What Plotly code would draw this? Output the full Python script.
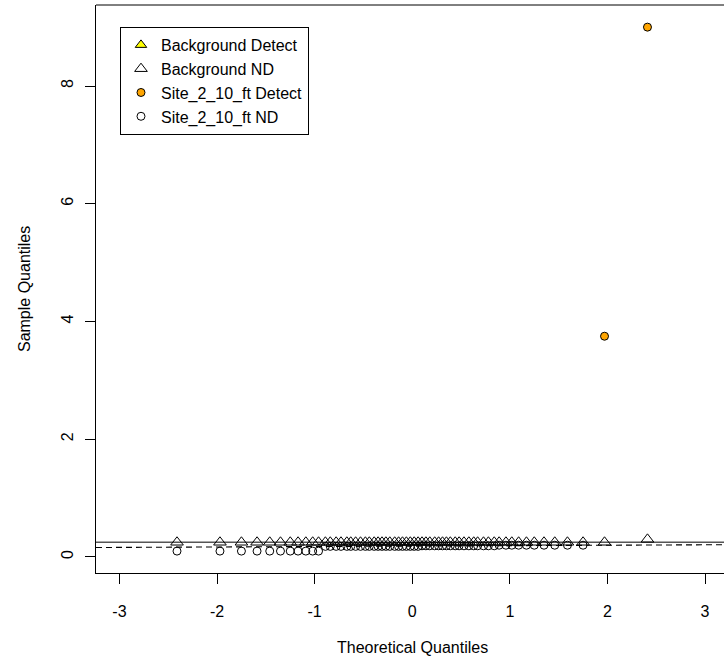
import plotly.graph_objects as go

# Theoretical normal quantiles (n = 62)
theoretical_q = [
    -2.41, -1.97, -1.75, -1.59, -1.46, -1.35, -1.25, -1.17, -1.09, -1.02,
    -0.96, -0.89, -0.84, -0.78, -0.73, -0.67, -0.63, -0.58, -0.53, -0.48,
    -0.44, -0.39, -0.35, -0.31, -0.27, -0.23, -0.18, -0.14, -0.10, -0.06,
    -0.02, 0.02, 0.06, 0.10, 0.14, 0.18, 0.23, 0.27, 0.31, 0.35,
    0.39, 0.44, 0.48, 0.53, 0.58, 0.63, 0.67, 0.73, 0.78, 0.84,
    0.89, 0.96, 1.02, 1.09, 1.17, 1.25, 1.35, 1.46, 1.59, 1.75,
    1.97, 2.41,
]

# Background sample quantiles (all non-detects)
background_nd = [0.25] * 61 + [0.30]

# Site_2_10_ft sample quantiles
site_values = (
    [0.10] * 11 + [0.18] * 22 + [0.19] * 17 + [0.20] * 10 + [3.75, 9.00]
)
site_detect = [False] * 60 + [True, True]

x_ticks = [-3, -2, -1, 0, 1, 2, 3]
y_ticks = [0, 2, 4, 6, 8]

FONT = "Liberation Sans, Arial, sans-serif"


def quantile7(vals, p):
    s = sorted(vals)
    h = (len(s) - 1) * p
    lo = int(h)
    hi = min(lo + 1, len(s) - 1)
    return s[lo] + (h - lo) * (s[hi] - s[lo])


def qqline(vals):
    q1, q3 = quantile7(vals, 0.25), quantile7(vals, 0.75)
    z1, z3 = -0.6745, 0.6745
    slope = (q3 - q1) / (z3 - z1)
    return slope, q1 - slope * z1


X_RANGE = [-3.24, 3.194]
Y_RANGE = [-0.272, 9.376]

fig = go.Figure()

# qqlines
bs, bi = qqline(background_nd)
ss, si = qqline(site_values)
fig.add_trace(go.Scatter(x=X_RANGE, y=[bi + bs * X_RANGE[0], bi + bs * X_RANGE[1]],
                         mode="lines", line=dict(color="#555555", width=1.3),
                         showlegend=False, hoverinfo="skip"))
fig.add_trace(go.Scatter(x=X_RANGE, y=[si + ss * X_RANGE[0], si + ss * X_RANGE[1]],
                         mode="lines", line=dict(color="black", width=1.1, dash="6px,4px"),
                         showlegend=False, hoverinfo="skip"))

# Background Detect (none present)
fig.add_trace(go.Scatter(x=[None], y=[None], mode="markers", name="Background Detect",
                         marker=dict(symbol="triangle-up", size=10, color="#FFFF00",
                                     line=dict(color="black", width=1))))
fig.add_trace(go.Scatter(x=theoretical_q, y=background_nd, mode="markers",
                         name="Background ND",
                         marker=dict(symbol="triangle-up-open", size=11, color="black",
                                     line=dict(width=1))))
sx_d = [x for x, d in zip(theoretical_q, site_detect) if d]
sy_d = [y for y, d in zip(site_values, site_detect) if d]
sx_n = [x for x, d in zip(theoretical_q, site_detect) if not d]
sy_n = [y for y, d in zip(site_values, site_detect) if not d]
fig.add_trace(go.Scatter(x=sx_d, y=sy_d, mode="markers", name="Site_2_10_ft Detect",
                         marker=dict(symbol="circle", size=8, color="#FFA500",
                                     line=dict(color="black", width=1))))
fig.add_trace(go.Scatter(x=sx_n, y=sy_n, mode="markers", name="Site_2_10_ft ND",
                         marker=dict(symbol="circle-open", size=8, color="black",
                                     line=dict(width=1))))

fig.update_layout(
    width=724, height=663,
    margin=dict(l=96, r=0, t=5, b=90),
    paper_bgcolor="white", plot_bgcolor="white",
    font=dict(family=FONT, size=16, color="black"),
    showlegend=True,
    legend=dict(x=0.0382, y=0.9613, xanchor="left", yanchor="top",
                bordercolor="black", borderwidth=1, bgcolor="white",
                font=dict(size=16), itemwidth=30),
    xaxis=dict(range=X_RANGE, tickvals=x_ticks, ticktext=[str(v) for v in x_ticks],
               ticks="outside", ticklen=10, tickcolor="black", tickwidth=1,
               showline=True, linecolor="black", linewidth=1,
               showgrid=False, zeroline=False, ticklabelstandoff=14),
    yaxis=dict(range=Y_RANGE, tickvals=y_ticks, ticktext=[str(v) for v in y_ticks],
               ticks="outside", ticklen=10, tickcolor="black", tickwidth=1,
               showline=True, linecolor="black", linewidth=1, tickangle=-90,
               showgrid=False, zeroline=False, ticklabelstandoff=6),
    shapes=[dict(type="line", xref="paper", yref="paper", x0=0, x1=1, y0=1, y1=1,
                 line=dict(color="black", width=1))],
    annotations=[
        dict(text="Theoretical Quantiles", xref="paper", yref="paper",
             x=0.5037, y=-0.132, xanchor="center", yanchor="middle",
             showarrow=False, font=dict(size=16)),
        dict(text="Sample Quantiles", xref="paper", yref="paper",
             x=-0.1146, y=0.5, xanchor="center", yanchor="middle", textangle=-90,
             showarrow=False, font=dict(size=16)),
    ],
)

fig.write_html("out.html",
               config={"displayModeBar": False},
               post_script="document.body.style.margin='0';document.body.style.overflow='hidden';")
